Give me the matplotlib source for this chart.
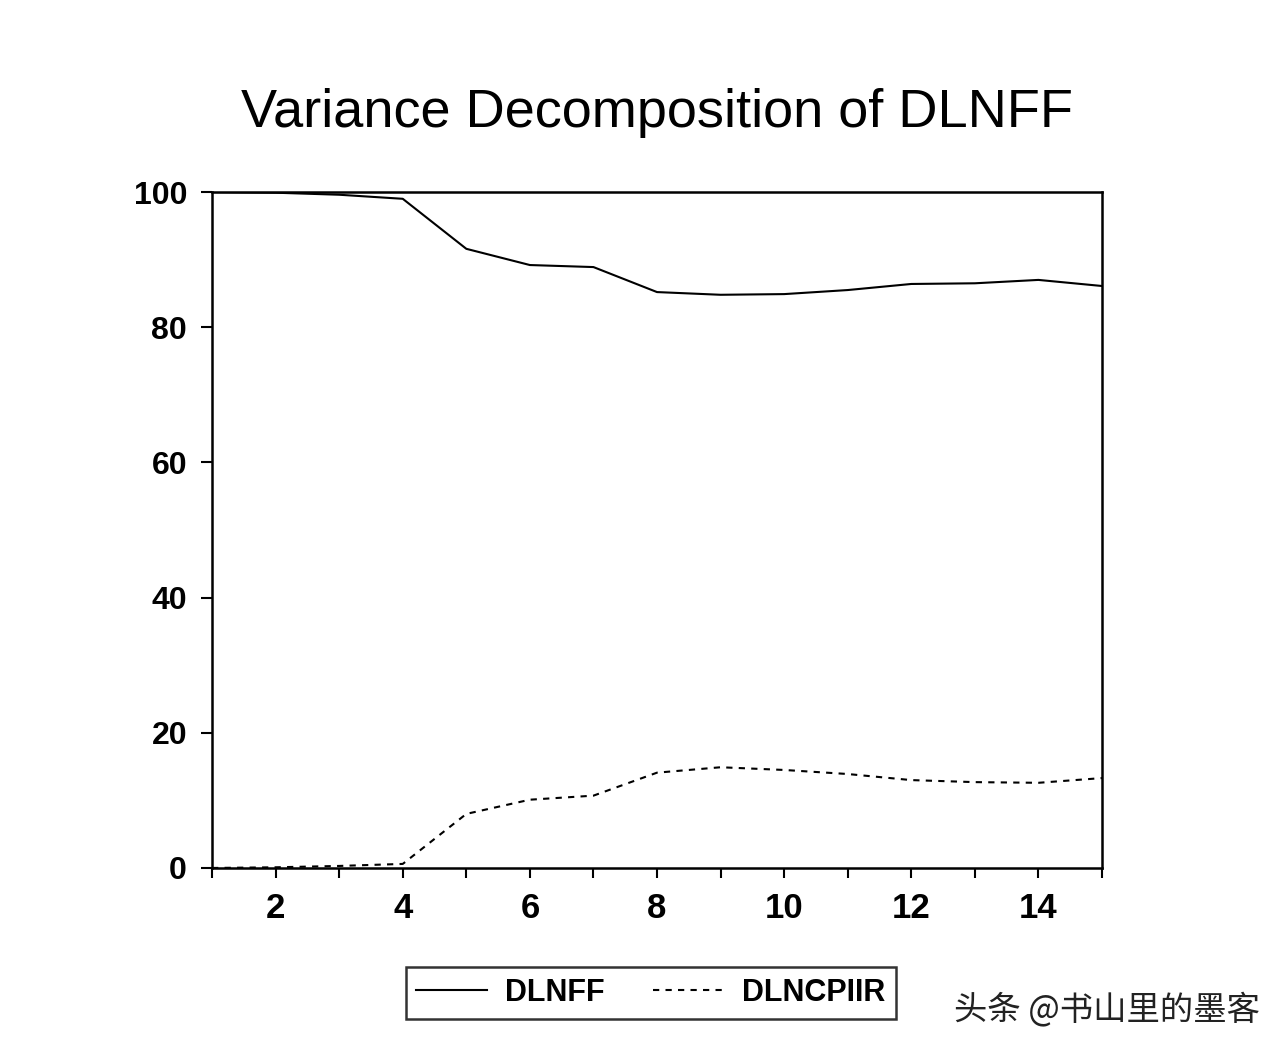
import matplotlib
matplotlib.use("Agg")
import matplotlib.pyplot as plt
from matplotlib.lines import Line2D

periods = list(range(1, 16))
dlnff = [100.0, 99.9, 99.6, 99.0, 91.6, 89.2, 88.9, 85.2, 84.8, 84.9, 85.5, 86.4, 86.5, 87.0, 86.1]
dlncpiir = [0.0, 0.1, 0.3, 0.6, 8.0, 10.1, 10.7, 14.1, 14.9, 14.5, 13.9, 13.0, 12.7, 12.6, 13.3]
x_labels = [2, 4, 6, 8, 10, 12, 14]
y_labels = [0, 20, 40, 60, 80, 100]
title = "Variance Decomposition of DLNFF"
series_names = ["DLNFF", "DLNCPIIR"]
watermark = "头条 @书山里的墨客"

plt.rcParams['font.family'] = ['Liberation Sans', 'DejaVu Sans']

fig = plt.figure(figsize=(12.86, 10.54), dpi=100)
ax = fig.add_axes([0.1649, 0.1765, 0.692, 0.6413])

ax.plot(periods, dlnff, color='black', lw=1.5, solid_joinstyle='round')
ax.plot(periods, dlncpiir, color='black', lw=1.5, linestyle=(0, (3, 3)))

ax.set_xlim(1, 15)
ax.set_ylim(0, 100)
ax.set_xticks(x_labels)
ax.set_xticklabels([str(v) for v in x_labels], fontsize=25, fontweight='bold')
ax.set_xticks(periods, minor=True)
ax.set_yticks(y_labels)
ax.set_yticklabels([str(v) for v in y_labels], fontsize=23, fontweight='bold')
ax.tick_params(axis='x', which='both', direction='out', length=7, width=1.5, pad=10)
ax.tick_params(axis='y', which='both', direction='out', length=8, width=1.5, pad=10)
for s in ax.spines.values():
    s.set_linewidth(1.8)
    s.set_color('black')

fig.text(0.511, 0.893, title, fontsize=39, ha='center', va='center')

handles = [Line2D([], [], color='black', lw=1.5),
           Line2D([], [], color='black', lw=1.5, linestyle=(0, (3, 3)))]
leg = fig.legend(handles, series_names, loc='center', bbox_to_anchor=(0.506, 0.058),
                 ncol=2, prop={'size': 22, 'weight': 'bold'}, frameon=True, fancybox=False,
                 edgecolor='black', handlelength=2.3, columnspacing=1.6, handletextpad=0.6,
                 borderpad=0.35, borderaxespad=0)
leg.get_frame().set_linewidth(1.8)

fig.text(0.742, 0.042, watermark, fontsize=24, ha='left', va='center', color='#222222',
         family=['Noto Sans CJK SC', 'DejaVu Sans'])

fig.savefig('out.png', dpi=100, facecolor='white')
